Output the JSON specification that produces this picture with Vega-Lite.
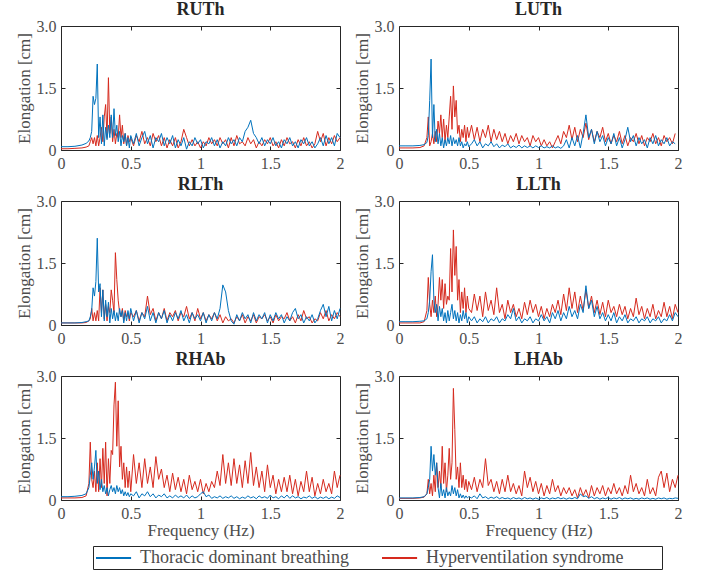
{
"$schema": "https://vega.github.io/schema/vega-lite/v6.json",
"background": "white",
"padding": {"left": 14, "top": 0, "right": 5, "bottom": 2},
"datasets": {
"RUTh_T": [{"f":0,"v":0.08},{"f":0.05,"v":0.08},{"f":0.1,"v":0.09},{"f":0.15,"v":0.12},{"f":0.18,"v":0.16},{"f":0.2,"v":0.22},{"f":0.21,"v":0.3},{"f":0.22,"v":0.45},{"f":0.23,"v":1.3},{"f":0.24,"v":1.1},{"f":0.25,"v":1.25},{"f":0.26,"v":2.08},{"f":0.27,"v":0.3},{"f":0.28,"v":0.8},{"f":0.29,"v":0.15},{"f":0.3,"v":0.85},{"f":0.31,"v":0.1},{"f":0.32,"v":0.55},{"f":0.33,"v":0.25},{"f":0.34,"v":0.6},{"f":0.35,"v":0.3},{"f":0.36,"v":0.85},{"f":0.37,"v":0.3},{"f":0.38,"v":1.0},{"f":0.39,"v":0.35},{"f":0.4,"v":0.6},{"f":0.41,"v":0.2},{"f":0.42,"v":0.45},{"f":0.43,"v":0.1},{"f":0.44,"v":0.35},{"f":0.45,"v":0.2},{"f":0.46,"v":0.4},{"f":0.47,"v":0.1},{"f":0.48,"v":0.3},{"f":0.49,"v":0.05},{"f":0.5,"v":0.35},{"f":0.52,"v":0.15},{"f":0.54,"v":0.4},{"f":0.56,"v":0.1},{"f":0.58,"v":0.3},{"f":0.6,"v":0.45},{"f":0.62,"v":0.15},{"f":0.64,"v":0.35},{"f":0.66,"v":0.05},{"f":0.68,"v":0.3},{"f":0.7,"v":0.2},{"f":0.72,"v":0.4},{"f":0.74,"v":0.1},{"f":0.76,"v":0.3},{"f":0.78,"v":0.15},{"f":0.8,"v":0.35},{"f":0.82,"v":0.05},{"f":0.84,"v":0.25},{"f":0.86,"v":0.1},{"f":0.88,"v":0.3},{"f":0.9,"v":0.02},{"f":0.92,"v":0.2},{"f":0.94,"v":0.1},{"f":0.96,"v":0.3},{"f":0.98,"v":0.15},{"f":1,"v":0.25},{"f":1.02,"v":0.05},{"f":1.04,"v":0.2},{"f":1.06,"v":0.15},{"f":1.08,"v":0.3},{"f":1.1,"v":0.1},{"f":1.12,"v":0.25},{"f":1.14,"v":0.05},{"f":1.16,"v":0.2},{"f":1.18,"v":0.1},{"f":1.2,"v":0.3},{"f":1.22,"v":0.15},{"f":1.24,"v":0.25},{"f":1.26,"v":0.1},{"f":1.28,"v":0.3},{"f":1.3,"v":0.2},{"f":1.32,"v":0.45},{"f":1.34,"v":0.55},{"f":1.36,"v":0.72},{"f":1.38,"v":0.4},{"f":1.4,"v":0.3},{"f":1.42,"v":0.15},{"f":1.44,"v":0.3},{"f":1.46,"v":0.1},{"f":1.48,"v":0.25},{"f":1.5,"v":0.15},{"f":1.52,"v":0.3},{"f":1.54,"v":0.1},{"f":1.56,"v":0.2},{"f":1.58,"v":0.05},{"f":1.6,"v":0.25},{"f":1.62,"v":0.15},{"f":1.64,"v":0.3},{"f":1.66,"v":0.1},{"f":1.68,"v":0.2},{"f":1.7,"v":0.05},{"f":1.72,"v":0.25},{"f":1.74,"v":0.15},{"f":1.76,"v":0.3},{"f":1.78,"v":0.1},{"f":1.8,"v":0.2},{"f":1.82,"v":0.05},{"f":1.84,"v":0.15},{"f":1.86,"v":0.3},{"f":1.88,"v":0.1},{"f":1.9,"v":0.35},{"f":1.92,"v":0.15},{"f":1.94,"v":0.3},{"f":1.96,"v":0.1},{"f":1.98,"v":0.4},{"f":2,"v":0.3}],
"RUTh_H": [{"f":0,"v":0.03},{"f":0.05,"v":0.03},{"f":0.1,"v":0.04},{"f":0.15,"v":0.05},{"f":0.18,"v":0.07},{"f":0.2,"v":0.1},{"f":0.21,"v":0.2},{"f":0.22,"v":0.3},{"f":0.23,"v":0.15},{"f":0.24,"v":0.3},{"f":0.25,"v":0.1},{"f":0.26,"v":0.35},{"f":0.27,"v":0.1},{"f":0.28,"v":0.3},{"f":0.29,"v":0.55},{"f":0.3,"v":0.2},{"f":0.31,"v":0.8},{"f":0.32,"v":1.1},{"f":0.33,"v":0.3},{"f":0.34,"v":1.75},{"f":0.35,"v":0.4},{"f":0.36,"v":0.8},{"f":0.37,"v":0.2},{"f":0.38,"v":0.5},{"f":0.39,"v":0.15},{"f":0.4,"v":0.4},{"f":0.41,"v":0.3},{"f":0.42,"v":0.85},{"f":0.43,"v":0.3},{"f":0.44,"v":0.6},{"f":0.45,"v":0.15},{"f":0.46,"v":0.4},{"f":0.47,"v":0.1},{"f":0.48,"v":0.35},{"f":0.49,"v":0.2},{"f":0.5,"v":0.3},{"f":0.52,"v":0.1},{"f":0.54,"v":0.35},{"f":0.56,"v":0.2},{"f":0.58,"v":0.45},{"f":0.6,"v":0.15},{"f":0.62,"v":0.3},{"f":0.64,"v":0.1},{"f":0.66,"v":0.4},{"f":0.68,"v":0.2},{"f":0.7,"v":0.35},{"f":0.72,"v":0.1},{"f":0.74,"v":0.3},{"f":0.76,"v":0.05},{"f":0.78,"v":0.25},{"f":0.8,"v":0.1},{"f":0.82,"v":0.3},{"f":0.84,"v":0.05},{"f":0.86,"v":0.2},{"f":0.88,"v":0.5},{"f":0.9,"v":0.3},{"f":0.92,"v":0.1},{"f":0.94,"v":0.25},{"f":0.96,"v":0.1},{"f":0.98,"v":0.2},{"f":1,"v":0.05},{"f":1.02,"v":0.2},{"f":1.04,"v":0.1},{"f":1.06,"v":0.3},{"f":1.08,"v":0.15},{"f":1.1,"v":0.25},{"f":1.12,"v":0.1},{"f":1.14,"v":0.3},{"f":1.16,"v":0.15},{"f":1.18,"v":0.25},{"f":1.2,"v":0.05},{"f":1.22,"v":0.3},{"f":1.24,"v":0.1},{"f":1.26,"v":0.35},{"f":1.28,"v":0.15},{"f":1.3,"v":0.2},{"f":1.32,"v":0.1},{"f":1.34,"v":0.3},{"f":1.36,"v":0.15},{"f":1.38,"v":0.25},{"f":1.4,"v":0.05},{"f":1.42,"v":0.2},{"f":1.44,"v":0.1},{"f":1.46,"v":0.25},{"f":1.48,"v":0.15},{"f":1.5,"v":0.3},{"f":1.52,"v":0.1},{"f":1.54,"v":0.2},{"f":1.56,"v":0.05},{"f":1.58,"v":0.25},{"f":1.6,"v":0.1},{"f":1.62,"v":0.3},{"f":1.64,"v":0.15},{"f":1.66,"v":0.2},{"f":1.68,"v":0.05},{"f":1.7,"v":0.25},{"f":1.72,"v":0.1},{"f":1.74,"v":0.3},{"f":1.76,"v":0.1},{"f":1.78,"v":0.2},{"f":1.8,"v":0.05},{"f":1.82,"v":0.15},{"f":1.84,"v":0.45},{"f":1.86,"v":0.2},{"f":1.88,"v":0.4},{"f":1.9,"v":0.1},{"f":1.92,"v":0.3},{"f":1.94,"v":0.15},{"f":1.96,"v":0.35},{"f":1.98,"v":0.2},{"f":2,"v":0.3}],
"LUTh_T": [{"f":0,"v":0.1},{"f":0.05,"v":0.1},{"f":0.1,"v":0.1},{"f":0.15,"v":0.11},{"f":0.18,"v":0.13},{"f":0.2,"v":0.18},{"f":0.21,"v":0.35},{"f":0.22,"v":1.2},{"f":0.23,"v":2.2},{"f":0.24,"v":0.3},{"f":0.25,"v":1.1},{"f":0.26,"v":0.2},{"f":0.27,"v":0.5},{"f":0.28,"v":0.15},{"f":0.29,"v":0.4},{"f":0.3,"v":0.1},{"f":0.31,"v":0.3},{"f":0.32,"v":0.05},{"f":0.33,"v":0.25},{"f":0.34,"v":0.1},{"f":0.35,"v":0.3},{"f":0.36,"v":0.15},{"f":0.37,"v":0.35},{"f":0.38,"v":0.1},{"f":0.39,"v":0.3},{"f":0.4,"v":0.15},{"f":0.41,"v":0.25},{"f":0.42,"v":0.1},{"f":0.43,"v":0.3},{"f":0.44,"v":0.1},{"f":0.45,"v":0.2},{"f":0.46,"v":0.05},{"f":0.47,"v":0.15},{"f":0.48,"v":0.1},{"f":0.49,"v":0.2},{"f":0.5,"v":0.08},{"f":0.52,"v":0.15},{"f":0.54,"v":0.25},{"f":0.56,"v":0.1},{"f":0.58,"v":0.2},{"f":0.6,"v":0.05},{"f":0.62,"v":0.15},{"f":0.64,"v":0.1},{"f":0.66,"v":0.2},{"f":0.68,"v":0.08},{"f":0.7,"v":0.15},{"f":0.72,"v":0.05},{"f":0.74,"v":0.12},{"f":0.76,"v":0.08},{"f":0.78,"v":0.15},{"f":0.8,"v":0.05},{"f":0.82,"v":0.1},{"f":0.84,"v":0.06},{"f":0.86,"v":0.12},{"f":0.88,"v":0.05},{"f":0.9,"v":0.1},{"f":0.92,"v":0.06},{"f":0.94,"v":0.1},{"f":0.96,"v":0.05},{"f":0.98,"v":0.1},{"f":1,"v":0.06},{"f":1.02,"v":0.1},{"f":1.04,"v":0.05},{"f":1.06,"v":0.08},{"f":1.08,"v":0.05},{"f":1.1,"v":0.1},{"f":1.12,"v":0.05},{"f":1.14,"v":0.08},{"f":1.16,"v":0.04},{"f":1.18,"v":0.1},{"f":1.2,"v":0.25},{"f":1.22,"v":0.05},{"f":1.24,"v":0.3},{"f":1.26,"v":0.1},{"f":1.28,"v":0.35},{"f":1.3,"v":0.05},{"f":1.32,"v":0.4},{"f":1.34,"v":0.85},{"f":1.36,"v":0.3},{"f":1.38,"v":0.5},{"f":1.4,"v":0.15},{"f":1.42,"v":0.45},{"f":1.44,"v":0.2},{"f":1.46,"v":0.35},{"f":1.48,"v":0.1},{"f":1.5,"v":0.3},{"f":1.52,"v":0.15},{"f":1.54,"v":0.4},{"f":1.56,"v":0.1},{"f":1.58,"v":0.3},{"f":1.6,"v":0.05},{"f":1.62,"v":0.25},{"f":1.64,"v":0.55},{"f":1.66,"v":0.2},{"f":1.68,"v":0.35},{"f":1.7,"v":0.1},{"f":1.72,"v":0.3},{"f":1.74,"v":0.15},{"f":1.76,"v":0.25},{"f":1.78,"v":0.05},{"f":1.8,"v":0.3},{"f":1.82,"v":0.15},{"f":1.84,"v":0.35},{"f":1.86,"v":0.1},{"f":1.88,"v":0.25},{"f":1.9,"v":0.15},{"f":1.92,"v":0.3},{"f":1.94,"v":0.1},{"f":1.96,"v":0.2},{"f":1.98,"v":0.15}],
"LUTh_H": [{"f":0,"v":0.05},{"f":0.05,"v":0.05},{"f":0.1,"v":0.05},{"f":0.15,"v":0.06},{"f":0.18,"v":0.1},{"f":0.2,"v":0.3},{"f":0.21,"v":0.8},{"f":0.22,"v":0.1},{"f":0.23,"v":0.2},{"f":0.24,"v":0.4},{"f":0.25,"v":0.15},{"f":0.26,"v":0.45},{"f":0.27,"v":0.2},{"f":0.28,"v":0.7},{"f":0.29,"v":0.4},{"f":0.3,"v":0.85},{"f":0.31,"v":0.3},{"f":0.32,"v":0.75},{"f":0.33,"v":0.2},{"f":0.34,"v":0.6},{"f":0.35,"v":0.3},{"f":0.36,"v":0.8},{"f":0.37,"v":1.3},{"f":0.38,"v":0.5},{"f":0.39,"v":1.55},{"f":0.4,"v":0.8},{"f":0.41,"v":1.2},{"f":0.42,"v":0.4},{"f":0.43,"v":0.6},{"f":0.44,"v":0.2},{"f":0.45,"v":0.5},{"f":0.46,"v":0.3},{"f":0.47,"v":0.6},{"f":0.48,"v":0.2},{"f":0.49,"v":0.55},{"f":0.5,"v":0.3},{"f":0.52,"v":0.6},{"f":0.54,"v":0.25},{"f":0.56,"v":0.55},{"f":0.58,"v":0.2},{"f":0.6,"v":0.5},{"f":0.62,"v":0.3},{"f":0.64,"v":0.6},{"f":0.66,"v":0.2},{"f":0.68,"v":0.5},{"f":0.7,"v":0.25},{"f":0.72,"v":0.45},{"f":0.74,"v":0.2},{"f":0.76,"v":0.4},{"f":0.78,"v":0.15},{"f":0.8,"v":0.35},{"f":0.82,"v":0.2},{"f":0.84,"v":0.4},{"f":0.86,"v":0.15},{"f":0.88,"v":0.35},{"f":0.9,"v":0.2},{"f":0.92,"v":0.3},{"f":0.94,"v":0.1},{"f":0.96,"v":0.35},{"f":0.98,"v":0.2},{"f":1,"v":0.3},{"f":1.02,"v":0.1},{"f":1.04,"v":0.25},{"f":1.06,"v":0.1},{"f":1.08,"v":0.2},{"f":1.1,"v":0.05},{"f":1.12,"v":0.2},{"f":1.14,"v":0.35},{"f":1.16,"v":0.15},{"f":1.18,"v":0.45},{"f":1.2,"v":0.3},{"f":1.22,"v":0.6},{"f":1.24,"v":0.25},{"f":1.26,"v":0.55},{"f":1.28,"v":0.2},{"f":1.3,"v":0.5},{"f":1.32,"v":0.3},{"f":1.34,"v":0.65},{"f":1.36,"v":0.25},{"f":1.38,"v":0.5},{"f":1.4,"v":0.2},{"f":1.42,"v":0.45},{"f":1.44,"v":0.3},{"f":1.46,"v":0.55},{"f":1.48,"v":0.2},{"f":1.5,"v":0.4},{"f":1.52,"v":0.15},{"f":1.54,"v":0.35},{"f":1.56,"v":0.2},{"f":1.58,"v":0.45},{"f":1.6,"v":0.15},{"f":1.62,"v":0.35},{"f":1.64,"v":0.1},{"f":1.66,"v":0.3},{"f":1.68,"v":0.2},{"f":1.7,"v":0.4},{"f":1.72,"v":0.15},{"f":1.74,"v":0.35},{"f":1.76,"v":0.1},{"f":1.78,"v":0.3},{"f":1.8,"v":0.2},{"f":1.82,"v":0.4},{"f":1.84,"v":0.15},{"f":1.86,"v":0.3},{"f":1.88,"v":0.1},{"f":1.9,"v":0.35},{"f":1.92,"v":0.2},{"f":1.94,"v":0.3},{"f":1.96,"v":0.15},{"f":1.98,"v":0.4}],
"RLTh_T": [{"f":0,"v":0.05},{"f":0.05,"v":0.05},{"f":0.1,"v":0.05},{"f":0.15,"v":0.06},{"f":0.18,"v":0.08},{"f":0.2,"v":0.1},{"f":0.21,"v":0.2},{"f":0.22,"v":0.35},{"f":0.23,"v":0.9},{"f":0.24,"v":0.7},{"f":0.25,"v":1.05},{"f":0.26,"v":2.1},{"f":0.27,"v":0.8},{"f":0.28,"v":1.0},{"f":0.29,"v":0.2},{"f":0.3,"v":0.85},{"f":0.31,"v":0.1},{"f":0.32,"v":0.6},{"f":0.33,"v":0.2},{"f":0.34,"v":0.55},{"f":0.35,"v":0.05},{"f":0.36,"v":0.4},{"f":0.37,"v":0.15},{"f":0.38,"v":0.35},{"f":0.39,"v":0.1},{"f":0.4,"v":0.3},{"f":0.41,"v":0.1},{"f":0.42,"v":0.4},{"f":0.43,"v":0.2},{"f":0.44,"v":0.35},{"f":0.45,"v":0.05},{"f":0.46,"v":0.3},{"f":0.47,"v":0.1},{"f":0.48,"v":0.35},{"f":0.49,"v":0.15},{"f":0.5,"v":0.4},{"f":0.52,"v":0.1},{"f":0.54,"v":0.35},{"f":0.56,"v":0.05},{"f":0.58,"v":0.3},{"f":0.6,"v":0.15},{"f":0.62,"v":0.45},{"f":0.64,"v":0.1},{"f":0.66,"v":0.3},{"f":0.68,"v":0.05},{"f":0.7,"v":0.3},{"f":0.72,"v":0.15},{"f":0.74,"v":0.35},{"f":0.76,"v":0.05},{"f":0.78,"v":0.25},{"f":0.8,"v":0.1},{"f":0.82,"v":0.3},{"f":0.84,"v":0.15},{"f":0.86,"v":0.35},{"f":0.88,"v":0.1},{"f":0.9,"v":0.25},{"f":0.92,"v":0.05},{"f":0.94,"v":0.3},{"f":0.96,"v":0.15},{"f":0.98,"v":0.25},{"f":1,"v":0.1},{"f":1.02,"v":0.3},{"f":1.04,"v":0.05},{"f":1.06,"v":0.25},{"f":1.08,"v":0.1},{"f":1.1,"v":0.3},{"f":1.12,"v":0.15},{"f":1.14,"v":0.4},{"f":1.16,"v":0.97},{"f":1.18,"v":0.8},{"f":1.2,"v":0.35},{"f":1.22,"v":0.1},{"f":1.24,"v":0.02},{"f":1.26,"v":0.25},{"f":1.28,"v":0.1},{"f":1.3,"v":0.3},{"f":1.32,"v":0.15},{"f":1.34,"v":0.25},{"f":1.36,"v":0.05},{"f":1.38,"v":0.3},{"f":1.4,"v":0.1},{"f":1.42,"v":0.25},{"f":1.44,"v":0.15},{"f":1.46,"v":0.3},{"f":1.48,"v":0.05},{"f":1.5,"v":0.25},{"f":1.52,"v":0.1},{"f":1.54,"v":0.3},{"f":1.56,"v":0.15},{"f":1.58,"v":0.25},{"f":1.6,"v":0.05},{"f":1.62,"v":0.2},{"f":1.64,"v":0.1},{"f":1.66,"v":0.3},{"f":1.68,"v":0.4},{"f":1.7,"v":0.15},{"f":1.72,"v":0.25},{"f":1.74,"v":0.05},{"f":1.76,"v":0.2},{"f":1.78,"v":0.1},{"f":1.8,"v":0.25},{"f":1.82,"v":0.05},{"f":1.84,"v":0.15},{"f":1.86,"v":0.35},{"f":1.88,"v":0.5},{"f":1.9,"v":0.2},{"f":1.92,"v":0.45},{"f":1.94,"v":0.1},{"f":1.96,"v":0.35},{"f":1.98,"v":0.15},{"f":2,"v":0.4}],
"RLTh_H": [{"f":0,"v":0.05},{"f":0.05,"v":0.05},{"f":0.1,"v":0.05},{"f":0.15,"v":0.05},{"f":0.18,"v":0.06},{"f":0.2,"v":0.1},{"f":0.21,"v":0.15},{"f":0.22,"v":0.4},{"f":0.23,"v":0.1},{"f":0.24,"v":0.3},{"f":0.25,"v":0.1},{"f":0.26,"v":0.35},{"f":0.27,"v":0.1},{"f":0.28,"v":0.9},{"f":0.29,"v":0.3},{"f":0.3,"v":0.85},{"f":0.31,"v":0.15},{"f":0.32,"v":0.5},{"f":0.33,"v":0.1},{"f":0.34,"v":0.45},{"f":0.35,"v":0.3},{"f":0.36,"v":0.85},{"f":0.37,"v":0.6},{"f":0.38,"v":0.3},{"f":0.39,"v":1.75},{"f":0.4,"v":1.1},{"f":0.41,"v":0.6},{"f":0.42,"v":0.3},{"f":0.43,"v":0.2},{"f":0.44,"v":0.4},{"f":0.45,"v":0.1},{"f":0.46,"v":0.35},{"f":0.47,"v":0.2},{"f":0.48,"v":0.3},{"f":0.49,"v":0.1},{"f":0.5,"v":0.3},{"f":0.52,"v":0.2},{"f":0.54,"v":0.35},{"f":0.56,"v":0.1},{"f":0.58,"v":0.3},{"f":0.6,"v":0.2},{"f":0.62,"v":0.7},{"f":0.64,"v":0.25},{"f":0.66,"v":0.4},{"f":0.68,"v":0.1},{"f":0.7,"v":0.3},{"f":0.72,"v":0.15},{"f":0.74,"v":0.4},{"f":0.76,"v":0.1},{"f":0.78,"v":0.3},{"f":0.8,"v":0.2},{"f":0.82,"v":0.35},{"f":0.84,"v":0.1},{"f":0.86,"v":0.3},{"f":0.88,"v":0.2},{"f":0.9,"v":0.45},{"f":0.92,"v":0.15},{"f":0.94,"v":0.3},{"f":0.96,"v":0.1},{"f":0.98,"v":0.4},{"f":1,"v":0.15},{"f":1.02,"v":0.3},{"f":1.04,"v":0.1},{"f":1.06,"v":0.25},{"f":1.08,"v":0.15},{"f":1.1,"v":0.3},{"f":1.12,"v":0.1},{"f":1.14,"v":0.25},{"f":1.16,"v":0.05},{"f":1.18,"v":0.2},{"f":1.2,"v":0.1},{"f":1.22,"v":0.15},{"f":1.24,"v":0.05},{"f":1.26,"v":0.2},{"f":1.28,"v":0.1},{"f":1.3,"v":0.25},{"f":1.32,"v":0.05},{"f":1.34,"v":0.2},{"f":1.36,"v":0.1},{"f":1.38,"v":0.25},{"f":1.4,"v":0.05},{"f":1.42,"v":0.2},{"f":1.44,"v":0.15},{"f":1.46,"v":0.25},{"f":1.48,"v":0.1},{"f":1.5,"v":0.2},{"f":1.52,"v":0.05},{"f":1.54,"v":0.25},{"f":1.56,"v":0.1},{"f":1.58,"v":0.2},{"f":1.6,"v":0.15},{"f":1.62,"v":0.3},{"f":1.64,"v":0.1},{"f":1.66,"v":0.2},{"f":1.68,"v":0.05},{"f":1.7,"v":0.25},{"f":1.72,"v":0.1},{"f":1.74,"v":0.35},{"f":1.76,"v":0.15},{"f":1.78,"v":0.2},{"f":1.8,"v":0.05},{"f":1.82,"v":0.15},{"f":1.84,"v":0.1},{"f":1.86,"v":0.3},{"f":1.88,"v":0.15},{"f":1.9,"v":0.35},{"f":1.92,"v":0.1},{"f":1.94,"v":0.25},{"f":1.96,"v":0.15},{"f":1.98,"v":0.3},{"f":2,"v":0.2}],
"LLTh_T": [{"f":0,"v":0.08},{"f":0.05,"v":0.08},{"f":0.1,"v":0.08},{"f":0.15,"v":0.09},{"f":0.18,"v":0.1},{"f":0.2,"v":0.15},{"f":0.21,"v":0.3},{"f":0.22,"v":0.6},{"f":0.23,"v":1.3},{"f":0.24,"v":1.7},{"f":0.25,"v":0.6},{"f":0.26,"v":0.3},{"f":0.27,"v":0.5},{"f":0.28,"v":0.1},{"f":0.29,"v":0.45},{"f":0.3,"v":0.2},{"f":0.31,"v":0.4},{"f":0.32,"v":0.1},{"f":0.33,"v":0.3},{"f":0.34,"v":0.05},{"f":0.35,"v":0.35},{"f":0.36,"v":0.1},{"f":0.37,"v":0.3},{"f":0.38,"v":0.5},{"f":0.39,"v":0.15},{"f":0.4,"v":0.35},{"f":0.41,"v":0.1},{"f":0.42,"v":0.3},{"f":0.43,"v":0.05},{"f":0.44,"v":0.25},{"f":0.45,"v":0.1},{"f":0.46,"v":0.35},{"f":0.47,"v":0.15},{"f":0.48,"v":0.3},{"f":0.49,"v":0.05},{"f":0.5,"v":0.2},{"f":0.52,"v":0.1},{"f":0.54,"v":0.2},{"f":0.56,"v":0.05},{"f":0.58,"v":0.15},{"f":0.6,"v":0.08},{"f":0.62,"v":0.2},{"f":0.64,"v":0.05},{"f":0.66,"v":0.15},{"f":0.68,"v":0.1},{"f":0.7,"v":0.2},{"f":0.72,"v":0.05},{"f":0.74,"v":0.15},{"f":0.76,"v":0.1},{"f":0.78,"v":0.25},{"f":0.8,"v":0.15},{"f":0.82,"v":0.4},{"f":0.84,"v":0.1},{"f":0.86,"v":0.2},{"f":0.88,"v":0.05},{"f":0.9,"v":0.15},{"f":0.92,"v":0.1},{"f":0.94,"v":0.2},{"f":0.96,"v":0.05},{"f":0.98,"v":0.15},{"f":1,"v":0.1},{"f":1.02,"v":0.25},{"f":1.04,"v":0.1},{"f":1.06,"v":0.2},{"f":1.08,"v":0.05},{"f":1.1,"v":0.3},{"f":1.12,"v":0.15},{"f":1.14,"v":0.35},{"f":1.16,"v":0.1},{"f":1.18,"v":0.3},{"f":1.2,"v":0.15},{"f":1.22,"v":0.45},{"f":1.24,"v":0.2},{"f":1.26,"v":0.35},{"f":1.28,"v":0.15},{"f":1.3,"v":0.5},{"f":1.32,"v":0.3},{"f":1.34,"v":0.95},{"f":1.36,"v":0.4},{"f":1.38,"v":0.6},{"f":1.4,"v":0.2},{"f":1.42,"v":0.45},{"f":1.44,"v":0.15},{"f":1.46,"v":0.3},{"f":1.48,"v":0.1},{"f":1.5,"v":0.25},{"f":1.52,"v":0.1},{"f":1.54,"v":0.3},{"f":1.56,"v":0.05},{"f":1.58,"v":0.2},{"f":1.6,"v":0.1},{"f":1.62,"v":0.25},{"f":1.64,"v":0.05},{"f":1.66,"v":0.15},{"f":1.68,"v":0.1},{"f":1.7,"v":0.2},{"f":1.72,"v":0.05},{"f":1.74,"v":0.15},{"f":1.76,"v":0.1},{"f":1.78,"v":0.2},{"f":1.8,"v":0.05},{"f":1.82,"v":0.15},{"f":1.84,"v":0.1},{"f":1.86,"v":0.2},{"f":1.88,"v":0.05},{"f":1.9,"v":0.15},{"f":1.92,"v":0.1},{"f":1.94,"v":0.25},{"f":1.96,"v":0.1},{"f":1.98,"v":0.3},{"f":2,"v":0.2}],
"LLTh_H": [{"f":0,"v":0.05},{"f":0.05,"v":0.05},{"f":0.1,"v":0.05},{"f":0.15,"v":0.05},{"f":0.18,"v":0.08},{"f":0.2,"v":0.35},{"f":0.21,"v":1.15},{"f":0.22,"v":0.5},{"f":0.23,"v":0.2},{"f":0.24,"v":0.6},{"f":0.25,"v":0.3},{"f":0.26,"v":0.7},{"f":0.27,"v":0.2},{"f":0.28,"v":0.5},{"f":0.29,"v":1.15},{"f":0.3,"v":0.6},{"f":0.31,"v":1.1},{"f":0.32,"v":0.4},{"f":0.33,"v":1.0},{"f":0.34,"v":0.5},{"f":0.35,"v":0.7},{"f":0.36,"v":0.6},{"f":0.37,"v":1.85},{"f":0.38,"v":0.8},{"f":0.39,"v":2.3},{"f":0.4,"v":1.2},{"f":0.41,"v":1.9},{"f":0.42,"v":0.6},{"f":0.43,"v":1.1},{"f":0.44,"v":0.3},{"f":0.45,"v":0.8},{"f":0.46,"v":0.4},{"f":0.47,"v":0.9},{"f":0.48,"v":0.3},{"f":0.49,"v":0.7},{"f":0.5,"v":0.4},{"f":0.52,"v":0.3},{"f":0.54,"v":0.75},{"f":0.56,"v":0.35},{"f":0.58,"v":0.7},{"f":0.6,"v":0.2},{"f":0.62,"v":0.8},{"f":0.64,"v":0.35},{"f":0.66,"v":0.6},{"f":0.68,"v":0.25},{"f":0.7,"v":0.9},{"f":0.72,"v":0.3},{"f":0.74,"v":0.5},{"f":0.76,"v":0.15},{"f":0.78,"v":0.6},{"f":0.8,"v":0.3},{"f":0.82,"v":0.5},{"f":0.84,"v":0.2},{"f":0.86,"v":0.4},{"f":0.88,"v":0.15},{"f":0.9,"v":0.55},{"f":0.92,"v":0.25},{"f":0.94,"v":0.6},{"f":0.96,"v":0.3},{"f":0.98,"v":0.5},{"f":1,"v":0.2},{"f":1.02,"v":0.45},{"f":1.04,"v":0.15},{"f":1.06,"v":0.4},{"f":1.08,"v":0.2},{"f":1.1,"v":0.5},{"f":1.12,"v":0.3},{"f":1.14,"v":0.6},{"f":1.16,"v":0.25},{"f":1.18,"v":0.75},{"f":1.2,"v":0.35},{"f":1.22,"v":0.9},{"f":1.24,"v":0.4},{"f":1.26,"v":0.8},{"f":1.28,"v":0.3},{"f":1.3,"v":0.7},{"f":1.32,"v":0.35},{"f":1.34,"v":0.85},{"f":1.36,"v":0.4},{"f":1.38,"v":0.7},{"f":1.4,"v":0.3},{"f":1.42,"v":0.6},{"f":1.44,"v":0.25},{"f":1.46,"v":0.55},{"f":1.48,"v":0.2},{"f":1.5,"v":0.6},{"f":1.52,"v":0.3},{"f":1.54,"v":0.45},{"f":1.56,"v":0.2},{"f":1.58,"v":0.5},{"f":1.6,"v":0.25},{"f":1.62,"v":0.45},{"f":1.64,"v":0.15},{"f":1.66,"v":0.4},{"f":1.68,"v":0.2},{"f":1.7,"v":0.65},{"f":1.72,"v":0.25},{"f":1.74,"v":0.45},{"f":1.76,"v":0.15},{"f":1.78,"v":0.4},{"f":1.8,"v":0.2},{"f":1.82,"v":0.5},{"f":1.84,"v":0.15},{"f":1.86,"v":0.35},{"f":1.88,"v":0.2},{"f":1.9,"v":0.55},{"f":1.92,"v":0.2},{"f":1.94,"v":0.45},{"f":1.96,"v":0.15},{"f":1.98,"v":0.5},{"f":2,"v":0.3}],
"RHAb_T": [{"f":0,"v":0.08},{"f":0.05,"v":0.08},{"f":0.1,"v":0.09},{"f":0.15,"v":0.11},{"f":0.18,"v":0.15},{"f":0.2,"v":0.3},{"f":0.21,"v":0.6},{"f":0.22,"v":0.9},{"f":0.23,"v":0.5},{"f":0.24,"v":0.8},{"f":0.25,"v":1.2},{"f":0.26,"v":0.4},{"f":0.27,"v":0.7},{"f":0.28,"v":0.25},{"f":0.29,"v":0.5},{"f":0.3,"v":0.2},{"f":0.31,"v":0.35},{"f":0.32,"v":0.15},{"f":0.33,"v":0.3},{"f":0.34,"v":0.1},{"f":0.35,"v":0.25},{"f":0.36,"v":0.35},{"f":0.37,"v":0.2},{"f":0.38,"v":0.3},{"f":0.39,"v":0.15},{"f":0.4,"v":0.35},{"f":0.41,"v":0.2},{"f":0.42,"v":0.3},{"f":0.43,"v":0.15},{"f":0.44,"v":0.25},{"f":0.45,"v":0.1},{"f":0.46,"v":0.2},{"f":0.47,"v":0.1},{"f":0.48,"v":0.18},{"f":0.49,"v":0.08},{"f":0.5,"v":0.15},{"f":0.52,"v":0.1},{"f":0.54,"v":0.2},{"f":0.56,"v":0.05},{"f":0.58,"v":0.15},{"f":0.6,"v":0.1},{"f":0.62,"v":0.2},{"f":0.64,"v":0.08},{"f":0.66,"v":0.15},{"f":0.68,"v":0.05},{"f":0.7,"v":0.12},{"f":0.72,"v":0.08},{"f":0.74,"v":0.15},{"f":0.76,"v":0.05},{"f":0.78,"v":0.1},{"f":0.8,"v":0.05},{"f":0.82,"v":0.12},{"f":0.84,"v":0.06},{"f":0.86,"v":0.1},{"f":0.88,"v":0.05},{"f":0.9,"v":0.12},{"f":0.92,"v":0.04},{"f":0.94,"v":0.1},{"f":0.96,"v":0.05},{"f":0.98,"v":0.08},{"f":1,"v":0.15},{"f":1.02,"v":0.2},{"f":1.04,"v":0.08},{"f":1.06,"v":0.12},{"f":1.08,"v":0.04},{"f":1.1,"v":0.08},{"f":1.12,"v":0.05},{"f":1.14,"v":0.1},{"f":1.16,"v":0.04},{"f":1.18,"v":0.08},{"f":1.2,"v":0.05},{"f":1.22,"v":0.1},{"f":1.24,"v":0.04},{"f":1.26,"v":0.08},{"f":1.28,"v":0.03},{"f":1.3,"v":0.07},{"f":1.32,"v":0.04},{"f":1.34,"v":0.1},{"f":1.36,"v":0.05},{"f":1.38,"v":0.08},{"f":1.4,"v":0.03},{"f":1.42,"v":0.1},{"f":1.44,"v":0.05},{"f":1.46,"v":0.08},{"f":1.48,"v":0.04},{"f":1.5,"v":0.12},{"f":1.52,"v":0.05},{"f":1.54,"v":0.08},{"f":1.56,"v":0.03},{"f":1.58,"v":0.1},{"f":1.6,"v":0.05},{"f":1.62,"v":0.12},{"f":1.64,"v":0.04},{"f":1.66,"v":0.1},{"f":1.68,"v":0.05},{"f":1.7,"v":0.08},{"f":1.72,"v":0.03},{"f":1.74,"v":0.07},{"f":1.76,"v":0.05},{"f":1.78,"v":0.1},{"f":1.8,"v":0.04},{"f":1.82,"v":0.08},{"f":1.84,"v":0.03},{"f":1.86,"v":0.07},{"f":1.88,"v":0.04},{"f":1.9,"v":0.08},{"f":1.92,"v":0.03},{"f":1.94,"v":0.07},{"f":1.96,"v":0.04},{"f":1.98,"v":0.1},{"f":2,"v":0.06}],
"RHAb_H": [{"f":0,"v":0.05},{"f":0.05,"v":0.05},{"f":0.1,"v":0.05},{"f":0.15,"v":0.06},{"f":0.18,"v":0.1},{"f":0.2,"v":0.4},{"f":0.21,"v":1.4},{"f":0.22,"v":0.5},{"f":0.23,"v":0.3},{"f":0.24,"v":0.7},{"f":0.25,"v":0.2},{"f":0.26,"v":0.9},{"f":0.27,"v":0.2},{"f":0.28,"v":1.0},{"f":0.29,"v":0.3},{"f":0.3,"v":1.25},{"f":0.31,"v":0.4},{"f":0.32,"v":1.4},{"f":0.33,"v":0.1},{"f":0.34,"v":1.0},{"f":0.35,"v":0.4},{"f":0.36,"v":1.2},{"f":0.37,"v":1.1},{"f":0.38,"v":2.3},{"f":0.39,"v":2.85},{"f":0.4,"v":1.3},{"f":0.41,"v":2.4},{"f":0.42,"v":0.8},{"f":0.43,"v":1.3},{"f":0.44,"v":0.5},{"f":0.45,"v":0.9},{"f":0.46,"v":0.3},{"f":0.47,"v":0.8},{"f":0.48,"v":0.3},{"f":0.49,"v":0.7},{"f":0.5,"v":0.2},{"f":0.52,"v":1.1},{"f":0.54,"v":0.4},{"f":0.56,"v":0.9},{"f":0.58,"v":0.3},{"f":0.6,"v":1.0},{"f":0.62,"v":0.4},{"f":0.64,"v":0.8},{"f":0.66,"v":0.3},{"f":0.68,"v":1.05},{"f":0.7,"v":0.5},{"f":0.72,"v":0.75},{"f":0.74,"v":0.3},{"f":0.76,"v":0.6},{"f":0.78,"v":0.2},{"f":0.8,"v":0.65},{"f":0.82,"v":0.25},{"f":0.84,"v":0.55},{"f":0.86,"v":0.2},{"f":0.88,"v":0.5},{"f":0.9,"v":0.15},{"f":0.92,"v":0.6},{"f":0.94,"v":0.25},{"f":0.96,"v":0.45},{"f":0.98,"v":0.2},{"f":1,"v":0.5},{"f":1.02,"v":0.15},{"f":1.04,"v":0.4},{"f":1.06,"v":0.2},{"f":1.08,"v":0.45},{"f":1.1,"v":0.3},{"f":1.12,"v":0.7},{"f":1.14,"v":0.35},{"f":1.16,"v":1.1},{"f":1.18,"v":0.4},{"f":1.2,"v":0.9},{"f":1.22,"v":0.35},{"f":1.24,"v":1.0},{"f":1.26,"v":0.4},{"f":1.28,"v":0.85},{"f":1.3,"v":0.3},{"f":1.32,"v":0.95},{"f":1.34,"v":0.4},{"f":1.36,"v":1.15},{"f":1.38,"v":0.35},{"f":1.4,"v":0.8},{"f":1.42,"v":0.3},{"f":1.44,"v":0.7},{"f":1.46,"v":0.2},{"f":1.48,"v":0.85},{"f":1.5,"v":0.3},{"f":1.52,"v":0.6},{"f":1.54,"v":0.15},{"f":1.56,"v":0.5},{"f":1.58,"v":0.2},{"f":1.6,"v":0.55},{"f":1.62,"v":0.2},{"f":1.64,"v":0.6},{"f":1.66,"v":0.15},{"f":1.68,"v":0.5},{"f":1.7,"v":0.1},{"f":1.72,"v":0.45},{"f":1.74,"v":0.2},{"f":1.76,"v":0.7},{"f":1.78,"v":0.2},{"f":1.8,"v":0.55},{"f":1.82,"v":0.1},{"f":1.84,"v":0.4},{"f":1.86,"v":0.15},{"f":1.88,"v":0.5},{"f":1.9,"v":0.2},{"f":1.92,"v":0.4},{"f":1.94,"v":0.15},{"f":1.96,"v":0.7},{"f":1.98,"v":0.3},{"f":2,"v":0.6}],
"LHAb_T": [{"f":0,"v":0.05},{"f":0.05,"v":0.05},{"f":0.1,"v":0.05},{"f":0.15,"v":0.06},{"f":0.18,"v":0.08},{"f":0.2,"v":0.15},{"f":0.21,"v":0.3},{"f":0.22,"v":0.5},{"f":0.23,"v":1.3},{"f":0.24,"v":0.7},{"f":0.25,"v":1.1},{"f":0.26,"v":0.6},{"f":0.27,"v":0.9},{"f":0.28,"v":0.3},{"f":0.29,"v":0.05},{"f":0.3,"v":0.4},{"f":0.31,"v":0.1},{"f":0.32,"v":0.25},{"f":0.33,"v":0.05},{"f":0.34,"v":0.3},{"f":0.35,"v":0.1},{"f":0.36,"v":0.2},{"f":0.37,"v":0.1},{"f":0.38,"v":0.35},{"f":0.39,"v":0.15},{"f":0.4,"v":0.3},{"f":0.41,"v":0.1},{"f":0.42,"v":0.25},{"f":0.43,"v":0.05},{"f":0.44,"v":0.15},{"f":0.45,"v":0.05},{"f":0.46,"v":0.12},{"f":0.47,"v":0.04},{"f":0.48,"v":0.1},{"f":0.49,"v":0.05},{"f":0.5,"v":0.08},{"f":0.52,"v":0.05},{"f":0.54,"v":0.1},{"f":0.56,"v":0.03},{"f":0.58,"v":0.15},{"f":0.6,"v":0.05},{"f":0.62,"v":0.08},{"f":0.64,"v":0.03},{"f":0.66,"v":0.07},{"f":0.68,"v":0.04},{"f":0.7,"v":0.08},{"f":0.72,"v":0.03},{"f":0.74,"v":0.06},{"f":0.76,"v":0.03},{"f":0.78,"v":0.05},{"f":0.8,"v":0.02},{"f":0.82,"v":0.06},{"f":0.84,"v":0.03},{"f":0.86,"v":0.05},{"f":0.88,"v":0.02},{"f":0.9,"v":0.06},{"f":0.92,"v":0.03},{"f":0.94,"v":0.05},{"f":0.96,"v":0.02},{"f":0.98,"v":0.05},{"f":1,"v":0.02},{"f":1.02,"v":0.05},{"f":1.04,"v":0.03},{"f":1.06,"v":0.06},{"f":1.08,"v":0.02},{"f":1.1,"v":0.05},{"f":1.12,"v":0.03},{"f":1.14,"v":0.06},{"f":1.16,"v":0.03},{"f":1.18,"v":0.05},{"f":1.2,"v":0.02},{"f":1.22,"v":0.05},{"f":1.24,"v":0.03},{"f":1.26,"v":0.06},{"f":1.28,"v":0.03},{"f":1.3,"v":0.15},{"f":1.32,"v":0.08},{"f":1.34,"v":0.1},{"f":1.36,"v":0.04},{"f":1.38,"v":0.08},{"f":1.4,"v":0.03},{"f":1.42,"v":0.06},{"f":1.44,"v":0.02},{"f":1.46,"v":0.05},{"f":1.48,"v":0.03},{"f":1.5,"v":0.06},{"f":1.52,"v":0.02},{"f":1.54,"v":0.05},{"f":1.56,"v":0.03},{"f":1.58,"v":0.06},{"f":1.6,"v":0.02},{"f":1.62,"v":0.05},{"f":1.64,"v":0.03},{"f":1.66,"v":0.05},{"f":1.68,"v":0.02},{"f":1.7,"v":0.04},{"f":1.72,"v":0.02},{"f":1.74,"v":0.05},{"f":1.76,"v":0.03},{"f":1.78,"v":0.05},{"f":1.8,"v":0.02},{"f":1.82,"v":0.04},{"f":1.84,"v":0.02},{"f":1.86,"v":0.05},{"f":1.88,"v":0.03},{"f":1.9,"v":0.05},{"f":1.92,"v":0.02},{"f":1.94,"v":0.04},{"f":1.96,"v":0.03},{"f":1.98,"v":0.05},{"f":2,"v":0.04}],
"LHAb_H": [{"f":0,"v":0.04},{"f":0.05,"v":0.04},{"f":0.1,"v":0.04},{"f":0.15,"v":0.05},{"f":0.18,"v":0.07},{"f":0.2,"v":0.15},{"f":0.21,"v":0.5},{"f":0.22,"v":0.15},{"f":0.23,"v":0.4},{"f":0.24,"v":0.1},{"f":0.25,"v":0.6},{"f":0.26,"v":0.2},{"f":0.27,"v":0.9},{"f":0.28,"v":0.3},{"f":0.29,"v":0.7},{"f":0.3,"v":0.3},{"f":0.31,"v":1.3},{"f":0.32,"v":0.4},{"f":0.33,"v":0.9},{"f":0.34,"v":0.2},{"f":0.35,"v":0.6},{"f":0.36,"v":1.25},{"f":0.37,"v":0.5},{"f":0.38,"v":0.9},{"f":0.39,"v":2.7},{"f":0.4,"v":1.7},{"f":0.41,"v":0.5},{"f":0.42,"v":0.8},{"f":0.43,"v":0.3},{"f":0.44,"v":0.9},{"f":0.45,"v":0.3},{"f":0.46,"v":0.6},{"f":0.47,"v":0.25},{"f":0.48,"v":0.5},{"f":0.49,"v":0.2},{"f":0.5,"v":0.45},{"f":0.52,"v":0.25},{"f":0.54,"v":0.55},{"f":0.56,"v":0.2},{"f":0.58,"v":0.5},{"f":0.6,"v":0.3},{"f":0.62,"v":1.0},{"f":0.64,"v":0.35},{"f":0.66,"v":0.5},{"f":0.68,"v":0.2},{"f":0.7,"v":0.45},{"f":0.72,"v":0.15},{"f":0.74,"v":0.5},{"f":0.76,"v":0.2},{"f":0.78,"v":0.6},{"f":0.8,"v":0.2},{"f":0.82,"v":0.4},{"f":0.84,"v":0.15},{"f":0.86,"v":0.35},{"f":0.88,"v":0.1},{"f":0.9,"v":0.7},{"f":0.92,"v":0.3},{"f":0.94,"v":0.55},{"f":0.96,"v":0.2},{"f":0.98,"v":0.45},{"f":1,"v":0.15},{"f":1.02,"v":0.4},{"f":1.04,"v":0.1},{"f":1.06,"v":0.35},{"f":1.08,"v":0.15},{"f":1.1,"v":0.5},{"f":1.12,"v":0.2},{"f":1.14,"v":0.35},{"f":1.16,"v":0.1},{"f":1.18,"v":0.3},{"f":1.2,"v":0.15},{"f":1.22,"v":0.3},{"f":1.24,"v":0.1},{"f":1.26,"v":0.25},{"f":1.28,"v":0.05},{"f":1.3,"v":0.3},{"f":1.32,"v":0.1},{"f":1.34,"v":0.25},{"f":1.36,"v":0.05},{"f":1.38,"v":0.35},{"f":1.4,"v":0.1},{"f":1.42,"v":0.3},{"f":1.44,"v":0.15},{"f":1.46,"v":0.35},{"f":1.48,"v":0.1},{"f":1.5,"v":0.3},{"f":1.52,"v":0.15},{"f":1.54,"v":0.4},{"f":1.56,"v":0.15},{"f":1.58,"v":0.3},{"f":1.6,"v":0.1},{"f":1.62,"v":0.35},{"f":1.64,"v":0.15},{"f":1.66,"v":0.6},{"f":1.68,"v":0.2},{"f":1.7,"v":0.4},{"f":1.72,"v":0.15},{"f":1.74,"v":0.3},{"f":1.76,"v":0.1},{"f":1.78,"v":0.5},{"f":1.8,"v":0.15},{"f":1.82,"v":0.3},{"f":1.84,"v":0.1},{"f":1.86,"v":0.55},{"f":1.88,"v":0.7},{"f":1.9,"v":0.3},{"f":1.92,"v":0.65},{"f":1.94,"v":0.2},{"f":1.96,"v":0.5},{"f":1.98,"v":0.3},{"f":2,"v":0.6}]
},
"columns": 2,
"spacing": {"row": 3, "column": 7},
"concat": [
{"title": "RUTh", "width": 279, "height": 124, "resolve": {"axis": {"x": "independent", "y": "independent"}}, "layer": [
 {"data": {"name": "RUTh_H"}, "mark": {"type": "line", "strokeWidth": 1}, "encoding": {"x": {"field": "f", "type": "quantitative", "scale": {"domain": [0, 2]}, "axis": {"values": [0, 0.5, 1, 1.5, 2], "labelExpr": "'' + datum.value", "title": null}}, "y": {"field": "v", "type": "quantitative", "scale": {"domain": [0, 3]}, "axis": {"values": [0, 1.5, 3], "labelExpr": "datum.value == 3 ? '3.0' : '' + datum.value", "title": "Elongation [cm]"}}, "color": {"datum": "Hyperventilation syndrome", "type": "nominal", "scale": {"domain": ["Thoracic dominant breathing", "Hyperventilation syndrome"], "range": ["#0072BD", "#D62A1E"]}, "legend": {"title": null, "labelExpr": "datum.label == 'Hyperventilation syndrome' ? datum.label + '\u2003\u2003\u200b' : datum.label"}}}},
 {"data": {"name": "RUTh_T"}, "mark": {"type": "line", "strokeWidth": 1}, "encoding": {"x": {"field": "f", "type": "quantitative", "axis": null}, "y": {"field": "v", "type": "quantitative", "axis": null}, "color": {"datum": "Thoracic dominant breathing", "type": "nominal", "scale": {"domain": ["Thoracic dominant breathing", "Hyperventilation syndrome"], "range": ["#0072BD", "#D62A1E"]}, "legend": {"title": null, "labelExpr": "datum.label == 'Hyperventilation syndrome' ? datum.label + '\u2003\u2003\u200b' : datum.label"}}}},
 {"data": {"name": "RUTh_T"}, "mark": {"type": "line", "opacity": 0}, "encoding": {"x": {"field": "f", "type": "quantitative", "axis": {"orient": "top", "values": [0.5, 1, 1.5], "labels": false, "title": null}}, "y": {"field": "v", "type": "quantitative", "axis": {"orient": "right", "values": [0, 1.5, 3], "labels": false, "title": null}}}}
]},
{"title": "LUTh", "width": 279, "height": 124, "resolve": {"axis": {"x": "independent", "y": "independent"}}, "layer": [
 {"data": {"name": "LUTh_H"}, "mark": {"type": "line", "strokeWidth": 1}, "encoding": {"x": {"field": "f", "type": "quantitative", "scale": {"domain": [0, 2]}, "axis": {"values": [0, 0.5, 1, 1.5, 2], "labelExpr": "'' + datum.value", "title": null}}, "y": {"field": "v", "type": "quantitative", "scale": {"domain": [0, 3]}, "axis": {"values": [0, 1.5, 3], "labelExpr": "datum.value == 3 ? '3.0' : '' + datum.value", "title": "Elongation [cm]"}}, "color": {"datum": "Hyperventilation syndrome", "type": "nominal", "scale": {"domain": ["Thoracic dominant breathing", "Hyperventilation syndrome"], "range": ["#0072BD", "#D62A1E"]}, "legend": {"title": null, "labelExpr": "datum.label == 'Hyperventilation syndrome' ? datum.label + '\u2003\u2003\u200b' : datum.label"}}}},
 {"data": {"name": "LUTh_T"}, "mark": {"type": "line", "strokeWidth": 1}, "encoding": {"x": {"field": "f", "type": "quantitative", "axis": null}, "y": {"field": "v", "type": "quantitative", "axis": null}, "color": {"datum": "Thoracic dominant breathing", "type": "nominal", "scale": {"domain": ["Thoracic dominant breathing", "Hyperventilation syndrome"], "range": ["#0072BD", "#D62A1E"]}, "legend": {"title": null, "labelExpr": "datum.label == 'Hyperventilation syndrome' ? datum.label + '\u2003\u2003\u200b' : datum.label"}}}},
 {"data": {"name": "LUTh_T"}, "mark": {"type": "line", "opacity": 0}, "encoding": {"x": {"field": "f", "type": "quantitative", "axis": {"orient": "top", "values": [0.5, 1, 1.5], "labels": false, "title": null}}, "y": {"field": "v", "type": "quantitative", "axis": {"orient": "right", "values": [0, 1.5, 3], "labels": false, "title": null}}}}
]},
{"title": "RLTh", "width": 279, "height": 124, "resolve": {"axis": {"x": "independent", "y": "independent"}}, "layer": [
 {"data": {"name": "RLTh_H"}, "mark": {"type": "line", "strokeWidth": 1}, "encoding": {"x": {"field": "f", "type": "quantitative", "scale": {"domain": [0, 2]}, "axis": {"values": [0, 0.5, 1, 1.5, 2], "labelExpr": "'' + datum.value", "title": null}}, "y": {"field": "v", "type": "quantitative", "scale": {"domain": [0, 3]}, "axis": {"values": [0, 1.5, 3], "labelExpr": "datum.value == 3 ? '3.0' : '' + datum.value", "title": "Elongation [cm]"}}, "color": {"datum": "Hyperventilation syndrome", "type": "nominal", "scale": {"domain": ["Thoracic dominant breathing", "Hyperventilation syndrome"], "range": ["#0072BD", "#D62A1E"]}, "legend": {"title": null, "labelExpr": "datum.label == 'Hyperventilation syndrome' ? datum.label + '\u2003\u2003\u200b' : datum.label"}}}},
 {"data": {"name": "RLTh_T"}, "mark": {"type": "line", "strokeWidth": 1}, "encoding": {"x": {"field": "f", "type": "quantitative", "axis": null}, "y": {"field": "v", "type": "quantitative", "axis": null}, "color": {"datum": "Thoracic dominant breathing", "type": "nominal", "scale": {"domain": ["Thoracic dominant breathing", "Hyperventilation syndrome"], "range": ["#0072BD", "#D62A1E"]}, "legend": {"title": null, "labelExpr": "datum.label == 'Hyperventilation syndrome' ? datum.label + '\u2003\u2003\u200b' : datum.label"}}}},
 {"data": {"name": "RLTh_T"}, "mark": {"type": "line", "opacity": 0}, "encoding": {"x": {"field": "f", "type": "quantitative", "axis": {"orient": "top", "values": [0.5, 1, 1.5], "labels": false, "title": null}}, "y": {"field": "v", "type": "quantitative", "axis": {"orient": "right", "values": [0, 1.5, 3], "labels": false, "title": null}}}}
]},
{"title": "LLTh", "width": 279, "height": 124, "resolve": {"axis": {"x": "independent", "y": "independent"}}, "layer": [
 {"data": {"name": "LLTh_H"}, "mark": {"type": "line", "strokeWidth": 1}, "encoding": {"x": {"field": "f", "type": "quantitative", "scale": {"domain": [0, 2]}, "axis": {"values": [0, 0.5, 1, 1.5, 2], "labelExpr": "'' + datum.value", "title": null}}, "y": {"field": "v", "type": "quantitative", "scale": {"domain": [0, 3]}, "axis": {"values": [0, 1.5, 3], "labelExpr": "datum.value == 3 ? '3.0' : '' + datum.value", "title": "Elongation [cm]"}}, "color": {"datum": "Hyperventilation syndrome", "type": "nominal", "scale": {"domain": ["Thoracic dominant breathing", "Hyperventilation syndrome"], "range": ["#0072BD", "#D62A1E"]}, "legend": {"title": null, "labelExpr": "datum.label == 'Hyperventilation syndrome' ? datum.label + '\u2003\u2003\u200b' : datum.label"}}}},
 {"data": {"name": "LLTh_T"}, "mark": {"type": "line", "strokeWidth": 1}, "encoding": {"x": {"field": "f", "type": "quantitative", "axis": null}, "y": {"field": "v", "type": "quantitative", "axis": null}, "color": {"datum": "Thoracic dominant breathing", "type": "nominal", "scale": {"domain": ["Thoracic dominant breathing", "Hyperventilation syndrome"], "range": ["#0072BD", "#D62A1E"]}, "legend": {"title": null, "labelExpr": "datum.label == 'Hyperventilation syndrome' ? datum.label + '\u2003\u2003\u200b' : datum.label"}}}},
 {"data": {"name": "LLTh_T"}, "mark": {"type": "line", "opacity": 0}, "encoding": {"x": {"field": "f", "type": "quantitative", "axis": {"orient": "top", "values": [0.5, 1, 1.5], "labels": false, "title": null}}, "y": {"field": "v", "type": "quantitative", "axis": {"orient": "right", "values": [0, 1.5, 3], "labels": false, "title": null}}}}
]},
{"title": "RHAb", "width": 279, "height": 124, "resolve": {"axis": {"x": "independent", "y": "independent"}}, "layer": [
 {"data": {"name": "RHAb_H"}, "mark": {"type": "line", "strokeWidth": 1}, "encoding": {"x": {"field": "f", "type": "quantitative", "scale": {"domain": [0, 2]}, "axis": {"values": [0, 0.5, 1, 1.5, 2], "labelExpr": "'' + datum.value", "title": "Frequency (Hz)", "titlePadding": 1}}, "y": {"field": "v", "type": "quantitative", "scale": {"domain": [0, 3]}, "axis": {"values": [0, 1.5, 3], "labelExpr": "datum.value == 3 ? '3.0' : '' + datum.value", "title": "Elongation [cm]"}}, "color": {"datum": "Hyperventilation syndrome", "type": "nominal", "scale": {"domain": ["Thoracic dominant breathing", "Hyperventilation syndrome"], "range": ["#0072BD", "#D62A1E"]}, "legend": {"title": null, "labelExpr": "datum.label == 'Hyperventilation syndrome' ? datum.label + '\u2003\u2003\u200b' : datum.label"}}}},
 {"data": {"name": "RHAb_T"}, "mark": {"type": "line", "strokeWidth": 1}, "encoding": {"x": {"field": "f", "type": "quantitative", "axis": null}, "y": {"field": "v", "type": "quantitative", "axis": null}, "color": {"datum": "Thoracic dominant breathing", "type": "nominal", "scale": {"domain": ["Thoracic dominant breathing", "Hyperventilation syndrome"], "range": ["#0072BD", "#D62A1E"]}, "legend": {"title": null, "labelExpr": "datum.label == 'Hyperventilation syndrome' ? datum.label + '\u2003\u2003\u200b' : datum.label"}}}},
 {"data": {"name": "RHAb_T"}, "mark": {"type": "line", "opacity": 0}, "encoding": {"x": {"field": "f", "type": "quantitative", "axis": {"orient": "top", "values": [0.5, 1, 1.5], "labels": false, "title": null}}, "y": {"field": "v", "type": "quantitative", "axis": {"orient": "right", "values": [0, 1.5, 3], "labels": false, "title": null}}}}
]},
{"title": "LHAb", "width": 279, "height": 124, "resolve": {"axis": {"x": "independent", "y": "independent"}}, "layer": [
 {"data": {"name": "LHAb_H"}, "mark": {"type": "line", "strokeWidth": 1}, "encoding": {"x": {"field": "f", "type": "quantitative", "scale": {"domain": [0, 2]}, "axis": {"values": [0, 0.5, 1, 1.5, 2], "labelExpr": "'' + datum.value", "title": "Frequency (Hz)", "titlePadding": 1}}, "y": {"field": "v", "type": "quantitative", "scale": {"domain": [0, 3]}, "axis": {"values": [0, 1.5, 3], "labelExpr": "datum.value == 3 ? '3.0' : '' + datum.value", "title": "Elongation [cm]"}}, "color": {"datum": "Hyperventilation syndrome", "type": "nominal", "scale": {"domain": ["Thoracic dominant breathing", "Hyperventilation syndrome"], "range": ["#0072BD", "#D62A1E"]}, "legend": {"title": null, "labelExpr": "datum.label == 'Hyperventilation syndrome' ? datum.label + '\u2003\u2003\u200b' : datum.label"}}}},
 {"data": {"name": "LHAb_T"}, "mark": {"type": "line", "strokeWidth": 1}, "encoding": {"x": {"field": "f", "type": "quantitative", "axis": null}, "y": {"field": "v", "type": "quantitative", "axis": null}, "color": {"datum": "Thoracic dominant breathing", "type": "nominal", "scale": {"domain": ["Thoracic dominant breathing", "Hyperventilation syndrome"], "range": ["#0072BD", "#D62A1E"]}, "legend": {"title": null, "labelExpr": "datum.label == 'Hyperventilation syndrome' ? datum.label + '\u2003\u2003\u200b' : datum.label"}}}},
 {"data": {"name": "LHAb_T"}, "mark": {"type": "line", "opacity": 0}, "encoding": {"x": {"field": "f", "type": "quantitative", "axis": {"orient": "top", "values": [0.5, 1, 1.5], "labels": false, "title": null}}, "y": {"field": "v", "type": "quantitative", "axis": {"orient": "right", "values": [0, 1.5, 3], "labels": false, "title": null}}}}
]}
],
"config": {
 "font": "Liberation Serif",
 "view": {"stroke": "#262626", "strokeWidth": 1},
 "axis": {"domain": false, "grid": false, "ticks": true, "tickSize": -4, "tickColor": "#262626", "labelFont": "Liberation Serif", "labelFontSize": 16, "labelColor": "#4d4d4d", "labelPadding": 9, "labelFlush": false, "labelOverlap": false, "titleFont": "Liberation Serif", "titleFontSize": 17, "titleFontWeight": "normal", "titleColor": "#4d4d4d", "titlePadding": 3},
 "title": {"font": "Liberation Serif", "fontSize": 18, "fontWeight": "bold", "color": "#262626", "offset": -1},
 "legend": {"orient": "none", "legendX": 32, "legendY": 520, "direction": "horizontal", "symbolType": "M-1,0H2.9", "symbolStrokeWidth": 2, "symbolSize": 324, "labelFont": "Liberation Serif", "labelFontSize": 18, "labelLimit": 400, "labelColor": "#4d4d4d", "strokeColor": "#262626", "padding": 2, "columnPadding": 29, "labelOffset": 25}
}
}
